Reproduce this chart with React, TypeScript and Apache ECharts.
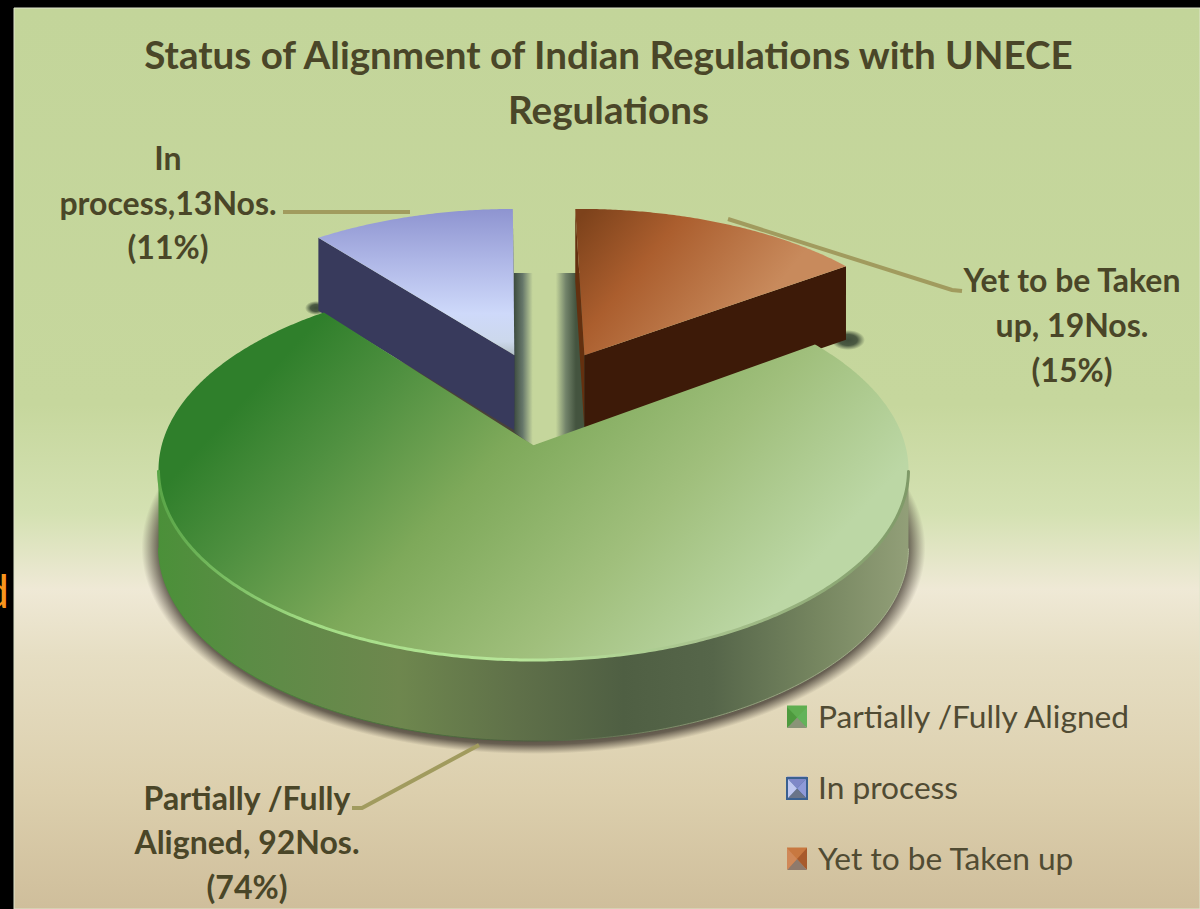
import React, { useEffect, useRef } from "react";
import * as echarts from "echarts";

const categories = ["Partially /Fully Aligned", "In process", "Yet to be Taken up"];
const counts = [92, 13, 19];
const titleText = "Status of Alignment of Indian Regulations with UNECE\nRegulations";
const labelPartial = ["Partially /Fully", "Aligned, 92Nos.", "(74%)"];
const labelProcess = ["In", "process,13Nos.", "(11%)"];
const labelYet = ["Yet to be Taken", "up, 19Nos.", "(15%)"];

const INK = "#4a4628";
const FONT = "Lato, Carlito, sans-serif";
const CX = 533.5, CY = 470, RX = 375, RY = 190, K = 0.13;
const S = Math.sqrt(1 - K * K);
const START_ANGLE = 54.5;
const explode = [[0, 0], [-0.055, 0.515], [0.146, 0.515]];
const total = counts.reduce((a, b) => a + b, 0);

const G = (x0: number, y0: number, x1: number, y1: number, stops: [number, string][]) =>
  new echarts.graphic.LinearGradient(x0, y0, x1, y1, stops.map(([offset, color]) => ({ offset, color })), true);
const R = (stops: [number, string][]) =>
  new echarts.graphic.RadialGradient(0.5, 0.5, 0.5, stops.map(([offset, color]) => ({ offset, color })));

function project(u: number, v: number) {
  const d = 1 + K * v;
  const X = (u * S) / d, Y = (v + K) / d;
  return { x: CX + RX * X, y: CY - RY * Y, t: 77.4 - 3.6 * Y, Y };
}
function sliceAngles(i: number) {
  let a = START_ANGLE;
  for (let j = 0; j < i; j++) a += (counts[j] / total) * 360;
  return [a, a + (counts[i] / total) * 360];
}
function arc(i: number) {
  const [a0, a1] = sliceAngles(i);
  const [tu, tv] = explode[i];
  const pts = [];
  const n = Math.ceil((a1 - a0) / 0.5);
  for (let j = 0; j <= n; j++) {
    const a = ((a0 + ((a1 - a0) * j) / n) * Math.PI) / 180;
    pts.push(project(Math.sin(a) + tu, Math.cos(a) + tv));
  }
  return { pts, apex: project(tu, tv) };
}
const xy = (p: any) => [p.x, p.y];
const down = (p: any) => [p.x, p.y + p.t];

const poly = (points: number[][], fill: any) => ({ type: "polygon", shape: { points }, style: { fill } });
const line = (points: number[][], stroke: any, lineWidth: number) => ({
  type: "polyline", shape: { points }, style: { stroke, lineWidth, fill: "none", lineCap: "round", lineJoin: "round" },
});

function renderGreen() {
  const { pts, apex } = arc(0);
  const front = pts.filter((p) => p.Y <= 0);
  const wallFill = G(159, 0, 908, 0, [
    [0, "#4b9039"], [0.12, "#5b8c45"], [0.32, "#6e874e"], [0.48, "#5f7049"],
    [0.62, "#4f5f43"], [0.74, "#56664a"], [0.88, "#768660"], [1, "#929f78"],
  ]);
  const topFill = G(325, 312, 714, 671, [
    [0, "#2f7f2b"], [0.18, "#4f9040"], [0.42, "#7ea95a"], [0.72, "#a0bf7c"], [1, "#bcd7a5"],
  ]);
  const rim = G(159, 0, 908, 0, [
    [0, "#5aa648"], [0.2, "#a2dc84"], [0.48, "#b8e69a"], [0.72, "#a9c48f"], [1, "#7f9a68"],
  ]);
  const bottom = G(159, 0, 908, 0, [[0, "#4b9039"], [0.5, "#4d5f3f"], [0.75, "#8e9c78"], [1, "#a8b490"]]);
  return {
    type: "group",
    children: [
      poly([...front.map(xy), ...front.slice().reverse().map(down)], wallFill),
      line(front.map(down), bottom, 1),
      poly([xy(apex), ...pts.map(xy)], topFill),
      line(front.map(xy), rim, 3),
    ],
  };
}

function renderExploded(i: number, topFill: any, wall: string, sideWall: string) {
  const { pts, apex } = arc(i);
  const first = pts[0], last = pts[pts.length - 1];
  const cut = (p: any, fill: string) => poly([xy(apex), xy(p), down(p), down(apex)], fill);
  return {
    type: "group",
    children: [
      cut(i === 2 ? first : last, sideWall),
      cut(i === 2 ? last : first, wall),
      poly([xy(apex), ...pts.map(xy)], topFill),
    ],
  };
}

const textEl = (text: string, x: number, y: number, bold: boolean, size: number, align = "center") => ({
  type: "text", z: 12, x, y, silent: true,
  style: { text, fill: INK, fontFamily: FONT, fontWeight: bold ? "bold" : "normal", fontSize: size, align, verticalAlign: "middle" },
});
const labelBlock = (lines: string[], x: number, ys: number[]) => lines.map((t, i) => textEl(t, x, ys[i], true, 32));
const tri = (pts: number[][], fill: string) => ({ type: "polygon", z: 12, silent: true, shape: { points: pts }, style: { fill } });
function icon(x: number, y: number, w: number, h: number, c: string[]) {
  const m = [x + w / 2, y + h / 2], a = [x, y], b = [x + w, y], d = [x + w, y + h], e = [x, y + h];
  return [tri([a, b, m], c[0]), tri([b, d, m], c[1]), tri([d, e, m], c[2]), tri([e, a, m], c[3])];
}
const leader = (points: number[][]) => ({
  type: "polyline", z: 11, silent: true, shape: { points },
  style: { stroke: "#a19b5e", lineWidth: 4, fill: "none" },
});

export default function App() {
  const ref = useRef<HTMLDivElement>(null);
  useEffect(() => {
    document.body.style.margin = "0";
    const chart = echarts.init(ref.current!, null, { renderer: "svg" });
    const blue = G(0, 206, 0, 360, [[0, "#8c92cf"], [0.35, "#aeb6e6"], [0.7, "#ced9fa"], [0.88, "#ccd8ec"], [1, "#aab8b8"]]);
    const brown = G(590, 205, 740, 330, [[0, "#7d421b"], [0.4, "#ab5e2e"], [1, "#c88a5c"]]);
    chart.setOption({
      animation: false,
      title: {
        text: titleText, left: 603.5, top: 21, textAlign: "center", z: 12,
        textStyle: { fontFamily: FONT, fontWeight: "bold", fontSize: 38.6, color: INK, lineHeight: 55 },
      },
      legend: {
        data: categories, orient: "vertical", left: 787, top: 694, padding: 0, itemWidth: 20, itemHeight: 21, itemGap: 27,
        selectedMode: false, icon: "rect",
        textStyle: { fontFamily: FONT, fontSize: 31.7, color: "#504b33", lineHeight: 44, padding: [0, 0, 0, 6] },
      },
      graphic: {
        elements: [
          { type: "rect", z: 0, silent: true, shape: { x: 0, y: 0, width: 1200, height: 909 }, style: { fill: "#000" } },
          {
            type: "rect", z: 0, silent: true, shape: { x: 14, y: 8, width: 1186, height: 901 },
            style: {
              stroke: "#dfe4cc", lineWidth: 1,
              fill: G(0, 8, 0, 909, [
                [0, "#c3d59a"], [0.44, "#c6d79d"], [0.56, "#d4e1b2"], [0.645, "#efe9d6"],
                [0.72, "#e6dec3"], [0.87, "#dccfad"], [1, "#cfbe9b"],
              ]),
            },
          },
          { type: "text", z: 1, x: 9, y: 590, silent: true, style: { text: "d", fill: "#f7941d", fontFamily: FONT, fontSize: 46, align: "right", verticalAlign: "middle" } },
          {
            type: "ellipse", z: 1, silent: true, shape: { cx: 533.5, cy: 548, rx: 392, ry: 206 },
            style: { fill: R([[0, "#4a4238"], [0.9, "#4a4238"], [0.955, "rgba(74,66,56,0.8)"], [1, "rgba(74,66,56,0)"]]) },
          },
          {
            type: "ellipse", z: 1, silent: true, shape: { cx: 316, cy: 308, rx: 11, ry: 7 },
            style: { fill: R([[0, "#3f4d3a"], [0.5, "#4b5a42"], [1, "rgba(75,90,66,0)"]]) },
          },
          {
            type: "ellipse", z: 1, silent: true, shape: { cx: 848, cy: 340, rx: 17, ry: 10 },
            style: { fill: R([[0, "#3f4d3a"], [0.55, "#4b5a42"], [1, "rgba(75,90,66,0)"]]) },
          },
          {
            type: "polygon", z: 1, silent: true, shape: { points: [[514, 273], [586, 273], [586, 428], [533, 446], [514, 432]] },
            style: {
              fill: G(514, 0, 586, 0, [
                [0, "#3d4c3e"], [0.12, "#66776a"], [0.26, "#c5d69c"], [0.58, "#c5d69c"],
                [0.72, "#72836a"], [0.86, "#44543f"], [1, "#44543f"],
              ]),
            },
          },
          leader([[283, 212], [410, 212]]),
          leader([[728, 219], [952, 290], [962, 291]]),
          leader([[479, 745], [362, 808], [352, 808]]),
          ...labelBlock(labelProcess, 168, [157, 202, 246]),
          ...labelBlock(labelYet, 1072, [279, 324, 369]),
          ...labelBlock(labelPartial, 247, [797, 841, 886]),
          ...icon(787, 707, 20, 21, ["#5fae50", "#62b35a", "#8a9478", "#4e9a3e"]),
          { type: "rect", z: 11, silent: true, shape: { x: 786, y: 777, width: 22, height: 23 }, style: { fill: "#3a6090" } },
          ...icon(788, 779, 18, 19, ["#7f88c8", "#8f9ad8", "#6a7488", "#c0c8f0"]),
          ...icon(787, 848, 20, 22, ["#c87840", "#a85a2c", "#8f7a6c", "#d08858"]),
        ],
      },
      series: [
        {
          type: "custom", name: categories[0], coordinateSystem: "none", z: 3, silent: true,
          data: [counts[0]], itemStyle: { color: "#5fae50" },
          renderItem: () => renderGreen(),
        },
        {
          type: "custom", name: categories[1], coordinateSystem: "none", z: 2, silent: true,
          data: [counts[1]], itemStyle: { color: "#8f9ad8" },
          renderItem: () => renderExploded(1, blue, "#383a5c", "#2f3150"),
        },
        {
          type: "custom", name: categories[2], coordinateSystem: "none", z: 2, silent: true,
          data: [counts[2]], itemStyle: { color: "#c87840" },
          renderItem: () => renderExploded(2, brown, "#3d1a08", "#64300f"),
        },
      ],
    });
    return () => chart.dispose();
  }, []);
  return <div ref={ref} style={{ position: "absolute", left: 0, top: 0, width: 1200, height: 909 }} />;
}
